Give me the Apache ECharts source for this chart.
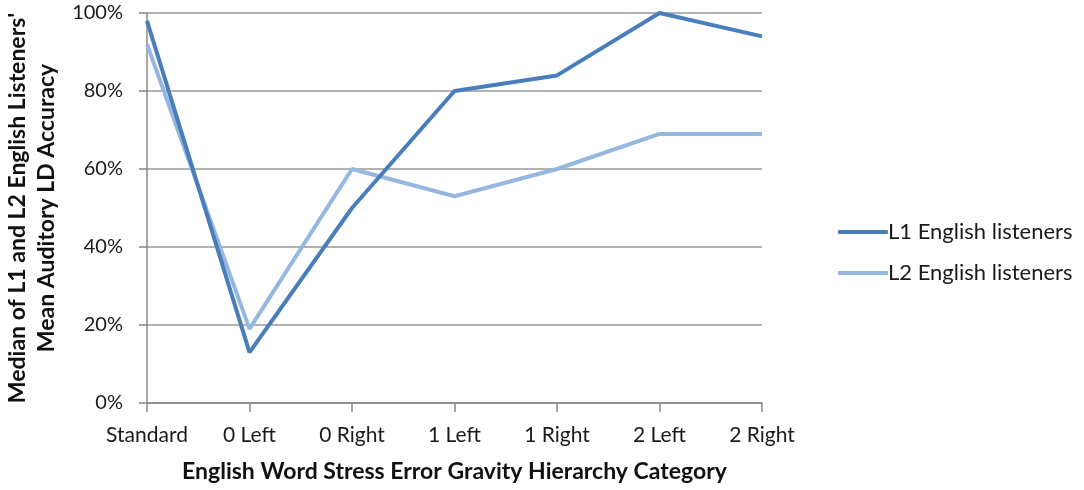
<!DOCTYPE html>
<html><head><meta charset="utf-8">
<script src="https://cdn.jsdelivr.net/npm/echarts@6/dist/echarts.min.js"></script>
<style>html,body{margin:0;padding:0;background:#fff}#c{width:1084px;height:490px}</style>
</head><body><div id="c"></div>
<script>
const categories = ['Standard','0 Left','0 Right','1 Left','1 Right','2 Left','2 Right'];
const l1Values = [98, 13, 50, 80, 84, 100, 94];
const l2Values = [92, 19, 60, 53, 60, 69, 69];
const yTicks = [0, 20, 40, 60, 80, 100];
const seriesNames = ['L1 English listeners', 'L2 English listeners'];
const FONT = 'Lato, "Open Sans", sans-serif';
const chart = echarts.init(document.getElementById('c'));
chart.setOption({
  animation: false,
  grid: {left: 147, right: 322, top: 13, bottom: 87, containLabel: false, outerBoundsMode: 'none'},
  legend: {
    orient: 'vertical', left: 833, top: 216, itemWidth: 50, itemHeight: 4, itemGap: 19,
    icon: 'roundRect',
    textStyle: {fontFamily: FONT, fontSize: 22, color: '#1a1a1a', padding: [0,0,0,-5]},
    data: seriesNames
  },
  xAxis: {
    type: 'category', data: categories, boundaryGap: false,
    axisLine: {lineStyle: {color: '#888', width: 1.5}},
    axisTick: {show: true, alignWithLabel: true, length: 9, lineStyle: {color: '#888', width: 1.5}},
    axisLabel: {fontFamily: FONT, fontSize: 21, color: '#1a1a1a', margin: 22, interval: 0, hideOverlap: false},
    name: 'English Word Stress Error Gravity Hierarchy Category',
    nameLocation: 'middle', nameGap: 57,
    nameTextStyle: {fontFamily: FONT, fontSize: 23, fontWeight: 'bold', color: '#111'}
  },
  yAxis: {
    type: 'value', min: 0, max: 100, interval: 20,
    axisLine: {show: true, lineStyle: {color: '#888', width: 1.5}},
    axisTick: {show: true, length: 8, lineStyle: {color: '#888', width: 1.5}},
    splitLine: {lineStyle: {color: '#999', width: 1.5}},
    axisLabel: {fontFamily: FONT, fontSize: 20, color: '#1a1a1a', margin: 24,
      formatter: v => yTicks.includes(v) ? v + '%' : ''},
    name: "Median of L1 and L2 English Listeners'\nMean Auditory LD Accuracy",
    nameLocation: 'middle', nameGap: 86, nameRotate: 90,
    nameTextStyle: {fontFamily: FONT, fontSize: 23, fontWeight: 'bold', color: '#111', lineHeight: 29}
  },
  series: [
    {name: seriesNames[0], type: 'line', data: l1Values, symbol: 'none',
     lineStyle: {color: '#4a7ebb', width: 4}, itemStyle: {color: '#4a7ebb'}, z: 3},
    {name: seriesNames[1], type: 'line', data: l2Values, symbol: 'none',
     lineStyle: {color: '#95b7e0', width: 4}, itemStyle: {color: '#95b7e0'}, z: 2}
  ]
});
</script></body></html>
